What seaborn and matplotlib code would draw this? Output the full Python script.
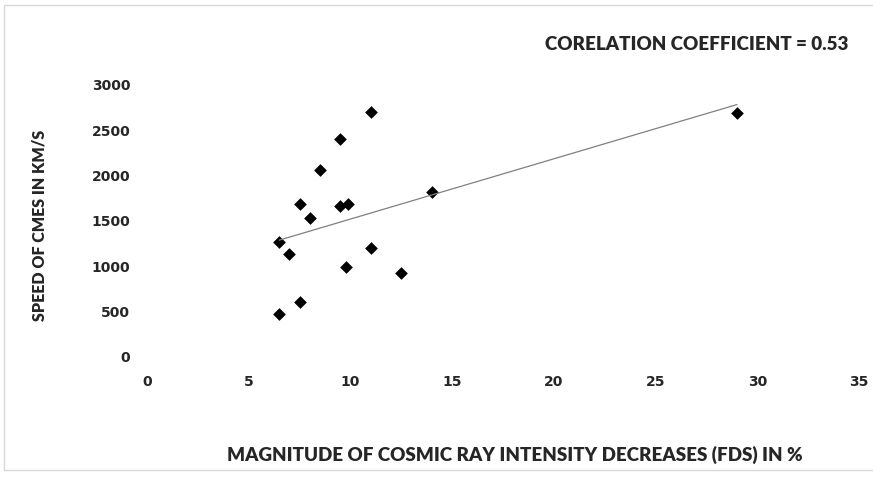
"""
Scatter of CME speed against Forbush decrease magnitude, with linear trend line.
"""

import matplotlib
import numpy as np
import pandas as pd
import seaborn as sns

matplotlib.use("Agg")
import matplotlib.pyplot as plt
from matplotlib.patches import Rectangle


# values
FD_MAGNITUDE = [11, 9.5, 8.5, 14, 7.5, 9.5, 9.9, 8, 6.5, 11, 7, 9.8, 12.5, 7.5, 6.5, 29]
CME_SPEED = [2700, 2400, 2060, 1820, 1680, 1660, 1690, 1530, 1270, 1200, 1130, 990, 920, 600, 470, 2690]

X_TICKS = [0, 5, 10, 15, 20, 25, 30, 35]
Y_TICKS = [0, 500, 1000, 1500, 2000, 2500, 3000]

X_LABEL = "MAGNITUDE OF COSMIC RAY INTENSITY DECREASES (FDS) IN %"
Y_LABEL = "SPEED OF CMES IN KM/S"
NOTE = "CORELATION COEFFICIENT = 0.53"


def main():
    sns.set_theme(style="white")
    plt.rcParams["font.family"] = ["DejaVu Sans"]

    df = pd.DataFrame({"fd": FD_MAGNITUDE, "speed": CME_SPEED})

    W, H = 873, 483
    fig = plt.figure(figsize=(W / 100, H / 100), dpi=100)
    ax = fig.add_axes([147 / W, 1 - 356.5 / H, (859 - 147) / W, (356.5 - 85) / H])

    sns.regplot(
        data=df,
        x="fd",
        y="speed",
        ci=None,
        truncate=True,
        marker="D",
        scatter_kws={"s": 42, "color": "black", "linewidths": 0, "alpha": 1},
        line_kws={"color": "#808080", "linewidth": 0.9},
        ax=ax,
    )

    ax.set_xlim(0, 35)
    ax.set_ylim(0, 3000)
    ax.set_xticks(X_TICKS)
    ax.set_yticks(Y_TICKS)
    ax.set_xticklabels([str(t) for t in X_TICKS], fontsize=10, fontweight="bold")
    ax.set_yticklabels([str(t) for t in Y_TICKS], fontsize=10, fontweight="bold")
    ax.tick_params(axis="x", length=0, pad=13)
    ax.tick_params(axis="y", length=0, pad=12)
    for spine in ax.spines.values():
        spine.set_visible(False)
    ax.set_xlabel("")
    ax.set_ylabel("")

    fig.text(515 / W, 1 - 455 / H, X_LABEL, ha="center", va="center",
             fontsize=13.5, fontweight="heavy", family="Lato")
    fig.text(40 / W, 1 - 225 / H, Y_LABEL, ha="center", va="center", rotation=90,
             fontsize=11.5, fontweight="heavy", family="Lato")
    fig.text(848 / W, 1 - 45 / H, NOTE, ha="right", va="center",
             fontsize=13.5, fontweight="heavy", family="Lato")

    fig.patches.append(Rectangle((4 / W, 1 - 470 / H), (W - 3) / W, 465 / H,
                                 transform=fig.transFigure, fill=False,
                                 edgecolor="#d9d9d9", linewidth=1))

    fig.savefig("out.png", dpi=100)
    plt.close(fig)


if __name__ == "__main__":
    main()
